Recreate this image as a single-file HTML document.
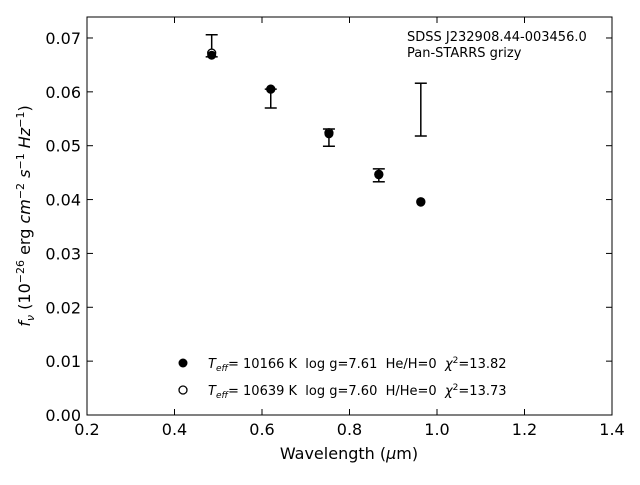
<!DOCTYPE html>
<html><head><meta charset="utf-8"><style>
body{margin:0;background:#fff}
svg text{font-family:"DejaVu Sans","Liberation Sans",sans-serif;fill:#000;white-space:pre}
</style></head><body>
<svg id="c" width="640" height="480" xmlns="http://www.w3.org/2000/svg" xml:space="preserve">
<rect x="87" y="17" width="525" height="398" fill="none" stroke="#000" stroke-width="1"/>
<g id="ticks"></g>
<g id="marks"></g>
<text x="349" y="459" font-size="16" text-anchor="middle">Wavelength (<tspan font-style="italic">μ</tspan>m)</text>
<text transform="translate(30,216) rotate(-90)" font-size="16" text-anchor="middle"><tspan font-style="italic">f</tspan><tspan font-style="italic" font-size="11" dy="4">ν</tspan><tspan dy="-4"> (10</tspan><tspan font-size="11" dy="-6">−26</tspan><tspan dy="6"> erg </tspan><tspan font-style="italic">cm</tspan><tspan font-size="11" dy="-6">−2</tspan><tspan dy="6"> </tspan><tspan font-style="italic">s</tspan><tspan font-size="11" dy="-6">−1</tspan><tspan dy="6"> </tspan><tspan font-style="italic">Hz</tspan><tspan font-size="11" dy="-6">−1</tspan><tspan dy="6">)</tspan></text>
<text x="407" y="41" font-size="13">SDSS J232908.44-003456.0</text>
<text x="407" y="57" font-size="13">Pan-STARRS grizy</text>
<g>
<circle cx="183" cy="363" r="4.5" fill="#000"/>
<text x="208" y="368" font-size="13"><tspan font-style="italic">T</tspan><tspan font-style="italic" font-size="9" dy="3">eff</tspan><tspan dy="-3">= 10166 K  log g=7.61  He/H=0  </tspan><tspan font-style="italic">χ</tspan><tspan font-size="9" dy="-5">2</tspan><tspan dy="5">=13.82</tspan></text>
<circle cx="183" cy="390" r="4" fill="#fff" stroke="#000" stroke-width="1.3"/>
<text x="208" y="395" font-size="13"><tspan font-style="italic">T</tspan><tspan font-style="italic" font-size="9" dy="3">eff</tspan><tspan dy="-3">= 10639 K  log g=7.60  H/He=0  </tspan><tspan font-style="italic">χ</tspan><tspan font-size="9" dy="-5">2</tspan><tspan dy="5">=13.73</tspan></text>
</g>
</svg>
<script>
const wavelengths=[0.485,0.62,0.753,0.867,0.963];
const obsFlux=[0.06855,0.05875,0.0515,0.0445,0.0567];
const obsErr=[0.00205,0.00175,0.0016,0.0012,0.0049];
const modelH=[0.0668,0.0605,0.0522,0.0446,0.0395];
const modelHe=[0.0672,0.0605,0.0524,0.0447,0.0396];
const xTicks=[0.2,0.4,0.6,0.8,1.0,1.2,1.4];
const yTicks=[0,0.01,0.02,0.03,0.04,0.05,0.06,0.07];
const NS="http://www.w3.org/2000/svg";
const X=v=>87+(v-0.2)*437.5;
const Y=v=>415-v*5386;
function mk(tag,attrs,parent){const e=document.createElementNS(NS,tag);for(const k in attrs)e.setAttribute(k,attrs[k]);parent.appendChild(e);return e;}
const tg=document.getElementById('ticks'),mg=document.getElementById('marks');
xTicks.forEach(t=>{const x=X(t);
 let l=mk('line',{x1:x,x2:x,y1:415,y2:409,stroke:'#000'},tg);
 
 
 let l2=mk('line',{x1:x,x2:x,y1:17,y2:23,stroke:'#000'},tg);
 
 
 let tx=mk('text',{x:x,y:435,'font-size':16,'text-anchor':'middle'},tg);tx.textContent=t.toFixed(1);
 
 
});
yTicks.forEach(t=>{const y=Y(t);
 let l=mk('line',{x1:87,x2:93,y1:y,y2:y,stroke:'#000'},tg);
 
 
 let l2=mk('line',{x1:612,x2:606,y1:y,y2:y,stroke:'#000'},tg);
 
 
 let tx=mk('text',{x:81,y:y+6,'font-size':16,'text-anchor':'end'},tg);tx.textContent=t.toFixed(2);
 
 
});
wavelengths.forEach((w,i)=>{const x=X(w);const t=Y(obsFlux[i]+obsErr[i]),b=Y(obsFlux[i]-obsErr[i]);
 const g=mk('g',{stroke:'#000','stroke-width':1.5},mg);
 
 
 mk('line',{x1:x,x2:x,y1:t,y2:b},g);
 mk('line',{x1:x-6,x2:x+6,y1:t,y2:t},g);
 mk('line',{x1:x-6,x2:x+6,y1:b,y2:b},g);
});
wavelengths.forEach((w,i)=>{
 let o=mk('circle',{cx:X(w),cy:Y(modelHe[i]),r:4,fill:'#fff',stroke:'#000','stroke-width':1.3},mg);
 
 
 let f=mk('circle',{cx:X(w),cy:Y(modelH[i]),r:4.5,fill:'#000'},mg);
 
 
});
</script>
</body></html>
